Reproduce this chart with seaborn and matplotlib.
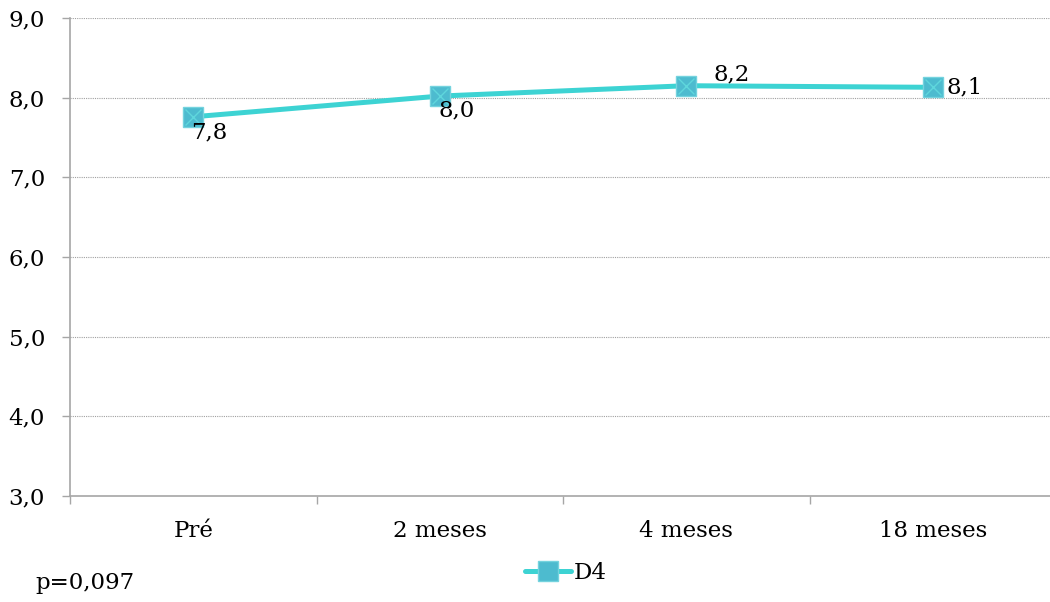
import matplotlib
matplotlib.use("Agg")
import matplotlib.pyplot as plt
import seaborn as sns
import pandas as pd
from matplotlib.lines import Line2D

categories = ["Pré", "2 meses", "4 meses", "18 meses"]
values = [7.76, 8.02, 8.15, 8.13]
value_labels = ["7,8", "8,0", "8,2", "8,1"]
y_ticks = [3.0, 4.0, 5.0, 6.0, 7.0, 8.0, 9.0]
y_tick_labels = ["3,0", "4,0", "5,0", "6,0", "7,0", "8,0", "9,0"]
series_name = "D4"
note = "p=0,097"

sns.set_theme(style="white")
plt.rcParams["font.family"] = ["DejaVu Serif"]
plt.rcParams["font.size"] = 16.5
plt.rcParams["text.color"] = "black"

LINE = "#3DD3D3"
FACE = "#4DBBCF"
EDGE = "#74D3DE"
FS = 16.5

fig = plt.figure(figsize=(10.5, 6.02), dpi=100)
ax = fig.add_axes([70 / 1050, (602 - 496) / 602, 986 / 1050, 478 / 602])

df = pd.DataFrame({"cat": categories, "val": values})
df["pos"] = range(len(categories))
sns.lineplot(data=df, x="pos", y="val", ax=ax, color=LINE, linewidth=3.6,
             marker="s", markersize=15, markerfacecolor=FACE,
             markeredgecolor=EDGE, markeredgewidth=1.0, zorder=3)
ax.plot(df["pos"], df["val"], linestyle="none", marker="x", markersize=11,
        markeredgecolor="#5fd6dc", markeredgewidth=1.0, zorder=4)

offsets = [(16, -16), (17, -14), (45, 11), (32, 0)]
for i, (v, lab) in enumerate(zip(values, value_labels)):
    ax.annotate(lab, (i, v), xytext=offsets[i], textcoords="offset pixels",
                ha="center", va="center", fontsize=FS, color="black", zorder=5)

ax.set_xlim(-0.5, 3.5)
ax.set_ylim(3.0, 9.0)
ax.set_yticks(y_ticks)
ax.set_yticklabels(y_tick_labels)
ax.set_xticks(range(len(categories)))
ax.set_xticklabels(categories)
ax.set_xticks([-0.5, 0.5, 1.5, 2.5, 3.5], minor=True)
ax.set_xlabel("")
ax.set_ylabel("")

for y in y_ticks[1:]:
    ax.axhline(y, color="#a0a0a0", linewidth=0.8, linestyle=(0, (1, 1)), zorder=1)

for s in ["top", "right"]:
    ax.spines[s].set_visible(False)
for s in ["left", "bottom"]:
    ax.spines[s].set_color("#a6a6a6")
    ax.spines[s].set_linewidth(1.2)

ax.tick_params(axis="y", which="major", left=True, length=6, width=1.0,
               color="#a6a6a6", pad=12, labelsize=FS, labelcolor="black")
ax.tick_params(axis="x", which="major", bottom=False, length=0, pad=17,
               labelsize=FS, labelcolor="black")
ax.tick_params(axis="x", which="minor", bottom=True, length=6, width=1.0,
               color="#a6a6a6", direction="out")

handle = Line2D([0], [0], color=LINE, linewidth=3.6, marker="s", markersize=15,
                markerfacecolor=FACE, markeredgecolor=EDGE)
fig.legend([handle], [series_name], loc="center", bbox_to_anchor=(566 / 1050, 1 - 573 / 602),
           frameon=False, fontsize=FS, handlelength=2.0, handletextpad=0.1,
           labelcolor="black")

fig.text(35 / 1050, 1 - 583 / 602, note, ha="left", va="center", fontsize=FS,
         color="black")

fig.savefig("out.png", dpi=100)
